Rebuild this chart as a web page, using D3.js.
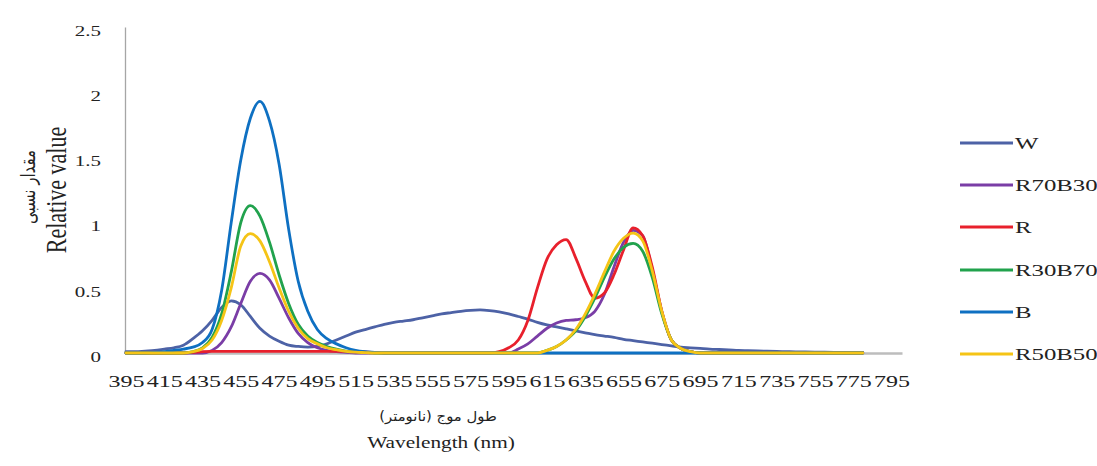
<!DOCTYPE html>
<html><head><meta charset="utf-8">
<script src="https://cdn.jsdelivr.net/npm/d3@7"></script>
<style>body{margin:0;background:#fff}svg{display:block}</style>
</head><body>
<script>
const wavelengths = [395,400,405,410,415,420,425,430,435,440,445,450,455,460,465,470,475,480,485,490,495,500,505,510,515,520,525,530,535,540,545,550,555,560,565,570,575,580,585,590,595,600,605,610,615,620,625,630,635,640,645,650,655,660,665,670,675,680,685,690,695,700,705,710,715,720,725,730,735,740,745,750,755,760,765,770,775,780];
const xTickLabels = [395,415,435,455,475,495,515,535,555,575,595,615,635,655,675,695,715,735,755,775,795];
const yTickLabels = [0,0.5,1,1.5,2,2.5];
const seriesNames = ["W","R70B30","R","R30B70","B","R50B50"];
const seriesColors = ["#4d62a6","#7a3da6","#e8202c","#21a24d","#0e70c2","#f5c416"];
const W = [0.01,0.01,0.015,0.02,0.03,0.04,0.06,0.11,0.17,0.25,0.35,0.40,0.37,0.28,0.19,0.13,0.09,0.06,0.05,0.045,0.05,0.07,0.1,0.13,0.16,0.18,0.2,0.22,0.235,0.245,0.255,0.27,0.285,0.3,0.31,0.32,0.327,0.33,0.325,0.315,0.3,0.28,0.26,0.235,0.215,0.2,0.185,0.17,0.155,0.14,0.13,0.12,0.105,0.095,0.085,0.075,0.065,0.055,0.045,0.04,0.035,0.03,0.027,0.024,0.02,0.018,0.016,0.014,0.012,0.01,0.009,0.008,0.007,0.006,0.005,0.004,0.003,0.003];
const R70B30 = [0,0,0,0,0,0,0,0,0,0.02,0.08,0.2,0.38,0.55,0.61,0.56,0.42,0.27,0.15,0.08,0.04,0.02,0.01,0.005,0,0,0,0,0,0,0,0,0,0,0,0,0,0,0,0,0,0.03,0.07,0.13,0.19,0.23,0.25,0.255,0.27,0.32,0.45,0.66,0.85,0.94,0.9,0.64,0.32,0.1,0.035,0.01,0,0,0,0,0,0,0,0,0,0,0,0,0,0,0,0,0,0];
const R = [0,0,0,0,0,0,0,0.005,0.01,0.012,0.012,0.012,0.012,0.012,0.012,0.012,0.012,0.012,0.012,0.012,0.012,0.012,0.012,0.012,0.01,0.008,0.004,0,0,0,0,0,0,0,0,0,0,0,0,0.01,0.04,0.1,0.25,0.5,0.72,0.83,0.87,0.73,0.55,0.42,0.46,0.6,0.79,0.96,0.9,0.66,0.32,0.1,0.035,0.01,0,0,0,0,0,0,0,0,0,0,0,0,0,0,0,0,0,0];
const R30B70 = [0,0,0,0,0,0,0,0.01,0.04,0.12,0.3,0.62,1.0,1.13,1.05,0.85,0.6,0.38,0.22,0.13,0.08,0.05,0.03,0.015,0.01,0.005,0,0,0,0,0,0,0,0,0,0,0,0,0,0,0,0,0,0,0.02,0.05,0.1,0.17,0.28,0.42,0.58,0.72,0.81,0.84,0.78,0.58,0.3,0.1,0.035,0.01,0,0,0,0,0,0,0,0,0,0,0,0,0,0,0,0,0,0];
const B = [0,0,0,0.005,0.01,0.02,0.03,0.045,0.08,0.18,0.48,1.0,1.48,1.8,1.93,1.78,1.45,0.95,0.55,0.32,0.18,0.11,0.07,0.04,0.02,0.01,0.005,0,0,0,0,0,0,0,0,0,0,0,0,0,0,0,0,0,0,0,0,0,0,0,0,0,0,0,0,0,0,0,0,0,0,0,0,0,0,0,0,0,0,0,0,0,0,0,0,0,0,0];
const R50B50 = [0,0,0,0,0,0,0,0.01,0.035,0.1,0.25,0.5,0.82,0.915,0.86,0.7,0.5,0.32,0.19,0.11,0.07,0.04,0.025,0.012,0.006,0.003,0,0,0,0,0,0,0,0,0,0,0,0,0,0,0,0,0,0,0.02,0.05,0.1,0.18,0.3,0.45,0.62,0.78,0.88,0.92,0.86,0.63,0.32,0.1,0.035,0.01,0,0,0,0,0,0,0,0,0,0,0,0,0,0,0,0,0,0];
const seriesValues = [W,R70B30,R,R30B70,B,R50B50];

const width = 1097, height = 466;
const svg = d3.select("body").append("svg").attr("width",width).attr("height",height);
const x = d3.scaleLinear().domain([394.5,800.5]).range([125,902]);
const y = d3.scaleLinear().domain([0,2.5]).range([353,27]);
const serif = "Liberation Serif, DejaVu Serif, Times New Roman, serif";

// y axis
const yAxis = svg.append("g").attr("transform","translate(125,0)")
  .call(d3.axisLeft(y).tickValues(yTickLabels).tickSize(0).tickPadding(0).tickFormat(d=>String(d)));
yAxis.attr("font-family",null);
yAxis.select(".domain").attr("stroke","#a6a6a6").attr("stroke-width",1.3);
yAxis.selectAll("text").attr("x",0).attr("dy","0.35em")
  .style("font-family",serif).style("font-size","15px").attr("fill","#222")
  .attr("transform","translate(-24,3) scale(1.4,1)");

// x axis
const xAxis = svg.append("g").attr("transform","translate(0,353)")
  .call(d3.axisBottom(x).tickValues(xTickLabels).tickSize(0).tickPadding(0).tickFormat(d=>String(d)));
xAxis.attr("font-family",null);
xAxis.select(".domain").attr("stroke","#bdbdbd").attr("stroke-width",2.5);
xAxis.selectAll("text").attr("y",0).attr("dy",0)
  .style("font-family",serif).style("font-size","16px").attr("fill","#222")
  .attr("transform","translate(0,34) scale(1.5,1)");

// lines
const line = d3.line().x((d,i)=>x(wavelengths[i])).y(d=>y(d)).curve(d3.curveMonotoneX);
seriesValues.forEach((vals,k)=>{
  svg.append("path").datum(vals).attr("d",line)
    .attr("fill","none").attr("stroke",seriesColors[k]).attr("stroke-width",2.8)
    .attr("stroke-linejoin","round").attr("stroke-linecap","round");
});

// legend
const legY = [143,185,227,270,312,354];
seriesNames.forEach((n,k)=>{
  const g = svg.append("g").attr("transform",`translate(960,${legY[k]})`);
  g.append("line").attr("x1",0).attr("x2",53).attr("y1",0).attr("y2",0)
    .attr("stroke",seriesColors[k]).attr("stroke-width",3.2);
  g.append("text").attr("transform","translate(55,0) scale(1.55,1)").attr("dy","0.35em")
    .style("font-family",serif).style("font-size","16px").attr("fill","#222").text(n);
});

// y titles
svg.append("text").attr("transform","translate(56,190) rotate(-90) scale(1,1.35)")
  .attr("text-anchor","middle").style("font-family",serif).style("font-size","22px").attr("fill","#222")
  .attr("dy","0.35em").text("Relative  value");
svg.append("text").attr("transform","translate(28,187) rotate(-90) scale(1,1.3)")
  .attr("text-anchor","middle").style("font-family","DejaVu Sans, sans-serif").style("font-size","15px").attr("fill","#222")
  .attr("dy","0.35em").text("مقدار نسبی");

// x titles
svg.append("text").attr("transform","translate(438,416) scale(1.1,1)")
  .attr("text-anchor","middle").style("font-family","DejaVu Sans, sans-serif").style("font-size","13.5px").attr("fill","#222")
  .attr("dy","0.35em").text("طول موج (نانومتر)");
svg.append("text").attr("transform","translate(441,442) scale(1.25,1)")
  .attr("text-anchor","middle").style("font-family",serif).style("font-size","17px").attr("fill","#222")
  .attr("dy","0.35em").text("Wavelength  (nm)");
</script>
</body></html>
